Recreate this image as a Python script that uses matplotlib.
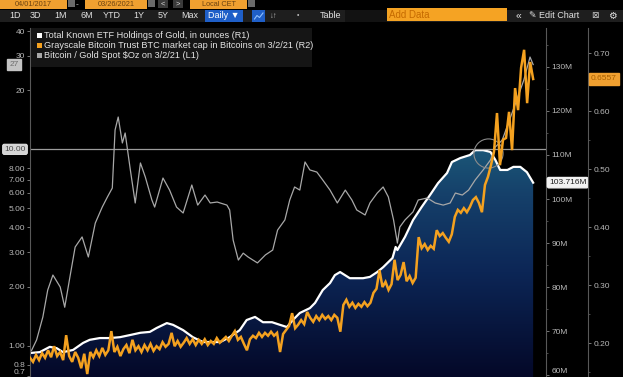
import numpy as np
import pandas as pd
import matplotlib
matplotlib.use("Agg")
import matplotlib.pyplot as plt
import matplotlib.colors as mcolors
import matplotlib.dates as mdates
from matplotlib.patches import Rectangle
from matplotlib.lines import Line2D
from matplotlib import font_manager as fm
from matplotlib.ticker import FixedLocator, MultipleLocator, NullLocator

# ---------------- data ----------------
start_date = "2017-04-01"
end_date = "2021-03-20"
view_end = "2021-04-26"

# Bitcoin / Gold Spot (L1, log)
ratio_dates = ["2017-04-01", "2017-04-06", "2017-04-20", "2017-05-08", "2017-05-22", "2017-06-06",
               "2017-06-27", "2017-07-10", "2017-07-25", "2017-08-09", "2017-08-29", "2017-09-16",
               "2017-10-06", "2017-10-26", "2017-11-10", "2017-11-24", "2017-12-02", "2017-12-11",
               "2017-12-23", "2017-12-31", "2018-01-15", "2018-01-29", "2018-02-13", "2018-02-27",
               "2018-03-18", "2018-03-26", "2018-04-19", "2018-05-08", "2018-05-28", "2018-06-16",
               "2018-07-11", "2018-07-28", "2018-08-18", "2018-09-02", "2018-09-22", "2018-10-20",
               "2018-10-28", "2018-11-07", "2018-11-22", "2018-12-06", "2018-12-20", "2019-01-16",
               "2019-02-08", "2019-03-01", "2019-03-15", "2019-04-05", "2019-04-19", "2019-05-03",
               "2019-05-18", "2019-06-02", "2019-06-16", "2019-07-06", "2019-07-23", "2019-08-13",
               "2019-09-03", "2019-09-26", "2019-10-15", "2019-10-29", "2019-11-22", "2019-12-06",
               "2019-12-27", "2020-01-13", "2020-01-28", "2020-02-12", "2020-02-23", "2020-03-01",
               "2020-03-16", "2020-04-08", "2020-04-23", "2020-05-19", "2020-06-11", "2020-07-04",
               "2020-07-24", "2020-08-08", "2020-08-28", "2020-09-15", "2020-10-04", "2020-10-27",
               "2020-11-17", "2020-12-01", "2020-12-21", "2021-01-14", "2021-02-04", "2021-02-21",
               "2021-03-11", "2021-03-20"]
ratio_values = [0.93, 0.95, 1.07, 1.40, 1.92, 2.29,
                1.99, 1.57, 2.24, 3.18, 3.58, 2.83,
                4.21, 5.08, 5.72, 6.35, 12.54, 14.6,
                10.77, 12.11, 7.85, 5.33, 8.52, 7.23,
                5.52, 5.08, 7.14, 6.20, 5.08, 4.74,
                6.58, 5.20, 5.85, 5.33, 5.39, 5.20,
                4.91, 3.45, 2.73, 2.96, 2.83, 2.64,
                2.90, 3.07, 3.88, 4.37, 5.52, 6.43,
                6.20, 8.62, 7.85, 7.66, 6.98, 6.20,
                5.33, 6.20, 5.52, 4.91, 4.63, 5.33,
                5.99, 6.43, 5.72, 4.37, 3.33, 4.02,
                4.37, 4.80, 5.52, 5.65, 5.33, 5.20,
                5.33, 5.99, 5.85, 6.20, 6.98, 7.85,
                8.82, 10.27, 11.15, 14.6, 18.47, 22.5,
                29.5, 27.0]

# Total Known ETF Holdings of Gold, millions of ounces (R1)
etf_dates = ["2017-04-01", "2017-04-29", "2017-05-28", "2017-06-17", "2017-07-05", "2017-08-03",
             "2017-09-01", "2017-09-20", "2017-10-19", "2017-11-17", "2017-12-16", "2018-01-15",
             "2018-02-13", "2018-03-12", "2018-04-01", "2018-04-30", "2018-05-18", "2018-06-16",
             "2018-07-14", "2018-08-12", "2018-09-10", "2018-10-01", "2018-10-28", "2018-11-26",
             "2018-12-16", "2019-01-09", "2019-02-01", "2019-02-27", "2019-03-22", "2019-04-11",
             "2019-04-28", "2019-05-18", "2019-06-16", "2019-07-01", "2019-07-23", "2019-08-13",
             "2019-08-27", "2019-09-11", "2019-10-09", "2019-10-29", "2019-11-16", "2019-12-06",
             "2019-12-27", "2020-01-13", "2020-02-09", "2020-02-18", "2020-02-23", "2020-03-16",
             "2020-04-08", "2020-05-03", "2020-05-27", "2020-06-19", "2020-07-15", "2020-07-29",
             "2020-08-22", "2020-09-19", "2020-10-04", "2020-10-27", "2020-11-17", "2020-12-01",
             "2020-12-15", "2021-01-05", "2021-01-22", "2021-02-11", "2021-03-02", "2021-03-20"]
etf_values = [65.0, 65.2, 66.4, 66.1, 65.2, 65.7,
              67.3, 68.0, 68.4, 68.4, 68.6, 69.1,
              69.6, 69.8, 70.7, 71.8, 71.4, 70.2,
              68.6, 67.5, 67.5, 67.5, 68.6, 70.2,
              72.5, 73.2, 72.0, 72.0, 71.4, 70.9,
              72.5, 74.1, 75.2, 76.4, 79.3, 80.9,
              82.7, 83.4, 82.0, 82.0, 82.0, 82.3,
              83.4, 84.5, 86.6, 89.1, 88.4, 91.4,
              95.2, 98.2, 100.9, 103.6, 105.9, 108.4,
              109.3, 110.0, 111.1, 111.1, 110.7, 108.9,
              106.6, 106.6, 107.3, 107.3, 106.1, 103.716]

# Grayscale Bitcoin Trust series (R2), evenly spaced observations start..end
gbtc_values = [0.175, 0.168, 0.180, 0.171, 0.183, 0.175, 0.188, 0.176, 0.195, 0.178,
               0.185, 0.171, 0.214, 0.178, 0.168, 0.185, 0.175, 0.157, 0.182, 0.147,
               0.185, 0.176, 0.188, 0.178, 0.192, 0.180, 0.188, 0.221, 0.185, 0.194,
               0.178, 0.190, 0.197, 0.183, 0.206, 0.188, 0.195, 0.185, 0.197, 0.188,
               0.199, 0.187, 0.195, 0.190, 0.202, 0.194, 0.199, 0.218, 0.195, 0.204,
               0.194, 0.201, 0.209, 0.199, 0.207, 0.197, 0.206, 0.199, 0.207, 0.197,
               0.204, 0.199, 0.209, 0.201, 0.206, 0.211, 0.204, 0.213, 0.221, 0.206,
               0.211, 0.199, 0.188, 0.207, 0.213, 0.209, 0.218, 0.211, 0.218, 0.213,
               0.220, 0.213, 0.218, 0.185, 0.216, 0.223, 0.230, 0.252, 0.226, 0.232,
               0.240, 0.233, 0.254, 0.244, 0.237, 0.247, 0.240, 0.249, 0.242, 0.247,
               0.240, 0.249, 0.244, 0.220, 0.266, 0.275, 0.263, 0.270, 0.261, 0.268,
               0.263, 0.271, 0.264, 0.270, 0.287, 0.294, 0.326, 0.297, 0.306, 0.292,
               0.302, 0.344, 0.309, 0.318, 0.340, 0.307, 0.316, 0.304, 0.313, 0.383,
               0.364, 0.371, 0.361, 0.368, 0.363, 0.395, 0.385, 0.390, 0.382, 0.375,
               0.388, 0.418, 0.430, 0.425, 0.433, 0.426, 0.435, 0.447, 0.452, 0.442,
               0.426, 0.473, 0.487, 0.507, 0.530, 0.597, 0.507, 0.551, 0.554, 0.599,
               0.533, 0.640, 0.602, 0.675, 0.706, 0.614, 0.685, 0.6557]

left_ticks = [0.7, 0.8, 1, 2, 3, 4, 5, 6, 7, 8, 20, 30, 40]
left_labels = ["0.7", "0.8", "1.00", "2.00", "3.00", "4.00", "5.00", "6.00", "7.00", "8.00", "20", "30", "40"]
r1_ticks = [60, 70, 80, 90, 100, 110, 120, 130]
r1_labels = ["60M", "70M", "80M", "90M", "100M", "110M", "120M", "130M"]
r2_ticks = [0.20, 0.30, 0.40, 0.50, 0.60, 0.70]
r2_labels = ["0.20", "0.30", "0.40", "0.50", "0.60", "0.70"]

legend_labels = ["Total Known ETF Holdings of Gold, in ounces (R1)",
                 "Grayscale Bitcoin Trust BTC market cap in Bitcoins on 3/2/21 (R2)",
                 r"Bitcoin / Gold Spot \$Oz on 3/2/21 (L1)"]
periods = ["1D", "3D", "1M", "6M", "YTD", "1Y", "5Y", "Max"]
ref_level = 10.0
last_ratio_label = "27"
last_etf_label = "103.716M"
last_gbtc_label = "0.6557"

# ---------------- style ----------------
def have(f):
    try:
        fm.findfont(fm.FontProperties(family=f), fallback_to_default=False)
        return True
    except Exception:
        return False

FONT = "Liberation Sans Narrow" if have("Liberation Sans Narrow") else "Liberation Sans"
plt.rcParams["font.family"] = [FONT, "DejaVu Sans"]

W, H = 623, 377
ETF_C = "#ffffff"
GBTC_C = "#f4a11f"
RATIO_C = "#a8a8a8"
AX_C = "#585858"
LAB_C = "#b8b8b8"

fig = plt.figure(figsize=(W / 100, H / 100), dpi=100, facecolor="black")

rect = [30 / W, 0, 516 / W, 349 / H]
ax_r1 = fig.add_axes(rect)
ax_r1.set_facecolor("black")
ax_l = ax_r1.twinx()
ax_r2 = ax_r1.twinx()
ax_r1.set_zorder(1)
ax_l.set_zorder(2)
ax_r2.set_zorder(3)
for a in (ax_l, ax_r2):
    a.patch.set_visible(False)

x0 = pd.Timestamp(start_date)
x1 = pd.Timestamp(view_end)

# ETF area with vertical gradient
ed = pd.to_datetime(etf_dates)
r1_lo, r1_hi = 59.55, 138.86
cmap = mcolors.LinearSegmentedColormap.from_list(
    "bbg", [(0.0, "#040828"), (0.3, "#0c2656"), (0.52, "#15406a"), (0.65, "#1b5677"), (1.0, "#28708f")])
grad = np.linspace(0, 1, 256).reshape(-1, 1)
im = ax_r1.imshow(grad, extent=[mdates.date2num(x0), mdates.date2num(x1), r1_lo, r1_hi],
                  origin="lower", cmap=cmap, aspect="auto", zorder=1, interpolation="bilinear")
poly = ax_r1.fill_between(ed, etf_values, r1_lo, facecolor="none", edgecolor="none", zorder=1)
im.set_clip_path(poly.get_paths()[0], transform=ax_r1.transData)
ax_r1.plot(ed, etf_values, color=ETF_C, lw=1.6, zorder=3, solid_joinstyle="round")

# Ratio line (L1)
ax_l.set_yscale("log")
ax_l.axhline(ref_level, color="#9c9c9c", lw=0.9, zorder=1)
ax_l.plot(pd.to_datetime(ratio_dates), ratio_values, color=RATIO_C, lw=0.9, zorder=2)
ax_l.plot([pd.Timestamp("2020-11-10")], [9.6], marker="o", ms=21, mfc="none",
          mec="#8c8c8c", mew=0.8, zorder=2)

# GBTC line (R2)
gd = pd.date_range(start_date, end_date, periods=len(gbtc_values))
ax_r2.plot(gd, gbtc_values, color=GBTC_C, lw=1.8, zorder=3, solid_joinstyle="miter")

# limits
for a in (ax_r1, ax_l, ax_r2):
    a.set_xlim(x0, x1)
ax_r1.set_ylim(r1_lo, r1_hi)
ax_l.set_ylim(0.693, 41.46)
ax_r2.set_ylim(0.1419, 0.7436)

# axes styling
for a in (ax_r1, ax_l, ax_r2):
    for s in a.spines.values():
        s.set_visible(False)
    a.tick_params(axis="x", bottom=False, labelbottom=False, top=False, labeltop=False)

ax_r1.yaxis.tick_right()
ax_r1.spines["right"].set_visible(True)
ax_r1.spines["right"].set_color(AX_C)
ax_r1.set_yticks(r1_ticks, r1_labels)
ax_r1.yaxis.set_minor_locator(MultipleLocator(5))
ax_r1.tick_params(axis="y", which="major", direction="out", length=2.5, width=0.6,
                  color="#8a8a8a", labelcolor=LAB_C, labelsize=6, pad=1.5)
ax_r1.tick_params(axis="y", which="minor", direction="out", length=1.5, width=0.5, color="#6a6a6a")

ax_l.yaxis.tick_left()
ax_l.yaxis.set_label_position("left")
ax_l.spines["left"].set_visible(True)
ax_l.spines["left"].set_color(AX_C)
ax_l.yaxis.set_major_locator(FixedLocator(left_ticks))
ax_l.set_yticklabels(left_labels)
ax_l.yaxis.set_minor_locator(NullLocator())
ax_l.tick_params(axis="y", which="major", direction="out", length=2.5, width=0.6,
                 color="#8a8a8a", labelcolor=LAB_C, labelsize=6, pad=1)

ax_r2.spines["right"].set_visible(True)
ax_r2.spines["right"].set_position(("axes", 1 + 42 / 516))
ax_r2.spines["right"].set_color(AX_C)
ax_r2.set_yticks(r2_ticks, r2_labels)
ax_r2.yaxis.set_minor_locator(MultipleLocator(0.05))
ax_r2.tick_params(axis="y", which="major", direction="out", length=2.5, width=0.6,
                  color="#8a8a8a", labelcolor=LAB_C, labelsize=6, pad=1.5)
ax_r2.tick_params(axis="y", which="minor", direction="out", length=1.5, width=0.5, color="#6a6a6a")

# keep the lowest tick labels inside the picture
ax_l.get_yticklabels()[0].set_va("bottom")
ax_r1.get_yticklabels()[0].set_va("bottom")

# value tags
ax_l.annotate(last_ratio_label, xy=(0, ratio_values[-1]), xycoords=("axes fraction", "data"),
              xytext=(-16, 0), textcoords="offset pixels", ha="center", va="center",
              fontsize=6, color="#6e6e6e", annotation_clip=False, zorder=5,
              bbox=dict(boxstyle="square,pad=0.25", fc="#c4c4c4", ec="#c4c4c4"))
ax_l.annotate("%.2f" % ref_level, xy=(0, ref_level), xycoords=("axes fraction", "data"),
              xytext=(-15, 0), textcoords="offset pixels", ha="center", va="center",
              fontsize=6, color="#4a4a4a", annotation_clip=False, zorder=5,
              bbox=dict(boxstyle="round,pad=0.2", fc="#d4d4d4", ec="#f0f0f0", lw=0.6))
ax_r1.annotate(last_etf_label, xy=(1, etf_values[-1]), xycoords=("axes fraction", "data"),
               xytext=(3, 0), textcoords="offset pixels", ha="left", va="center",
               fontsize=6, color="#222222", annotation_clip=False, zorder=5,
               bbox=dict(boxstyle="round,pad=0.2", fc="#f2f2f2", ec="#f2f2f2"))
ax_r2.annotate(last_gbtc_label, xy=(1, gbtc_values[-1]), xycoords=("axes fraction", "data"),
               xytext=(45, 0), textcoords="offset pixels", ha="left", va="center",
               fontsize=6, color="#a65f00", annotation_clip=False, zorder=5,
               bbox=dict(boxstyle="square,pad=0.25", fc="#f0a030", ec="#f0a030"))

# ---------------- chrome: legend & toolbar ----------------
def prect(xa, ya, xb, yb, color, z=10):
    fig.patches.append(Rectangle((xa / W, 1 - yb / H), (xb - xa) / W, (yb - ya) / H,
                                 transform=fig.transFigure, facecolor=color, edgecolor="none", zorder=z))

def ptext(x, y, s, **kw):
    kw.setdefault("zorder", 11)
    kw.setdefault("va", "center")
    fig.text(x / W, 1 - y / H, s, **kw)

# legend
prect(31, 28, 312, 67, "#151515")
for i, (lab, c) in enumerate(zip(legend_labels, [ETF_C, GBTC_C, RATIO_C])):
    yy = 35.5 + 10 * i
    prect(37, yy - 2.5, 42, yy + 2.5, c, z=11)
    ptext(44, yy, lab, fontsize=6.6, color="#e4e4e4", ha="left")

# toolbar row 1
row1 = [(0, 67, "04/01/2017"), (85, 147, "03/26/2021"), (190, 247, "Local CET")]
for xa, xb, s in row1:
    prect(xa, 0, xb, 8.5, "#f0a030")
    ptext((xa + xb) / 2, 4.6, s, fontsize=5.3, color="#6b4210", ha="center")
for xa in (68, 148, 248):
    prect(xa, 0, xa + 7, 7, "#6a6a6a")
ptext(77, 4.5, "-", fontsize=6, color="#cccccc", ha="center")
prect(158, 0, 168, 8, "#3a3a3a")
prect(173, 0, 183, 8, "#3a3a3a")
ptext(163, 4.5, "<", fontsize=5.5, color="#dddddd", ha="center")
ptext(178, 4.5, ">", fontsize=5.5, color="#dddddd", ha="center")

# toolbar row 2
prect(0, 10, W, 22, "#1e1e1e", z=9)
prect(345, 10, 387, 22, "#121212", z=9)
period_x = [15, 35, 61, 87, 112, 139, 163, 190]
for px, s in zip(period_x, periods):
    ptext(px, 16, s, fontsize=6.5, color="#e2e2e2", ha="center")
prect(205, 10, 243, 22, "#1f5fc8")
ptext(224, 16, "Daily \u25BC", fontsize=6.5, color="#ffffff", ha="center")
prect(252, 10, 265, 22, "#1f5fc8")
fig.lines.append(Line2D(np.array([254.5, 257, 259.5, 263]) / W, 1 - np.array([19, 15.5, 17.5, 13]) / H,
                        transform=fig.transFigure, color="#8fc0ff", lw=0.8, zorder=12))
ptext(274, 16, "\u2193\u2191", fontsize=5.5, color="#bbbbbb", ha="center")
ptext(298, 16, "\u2022", fontsize=5, color="#bbbbbb", ha="center")
ptext(331, 16, "Table", fontsize=6.5, color="#e2e2e2", ha="center")
prect(387, 8, 507, 21, "#f5a323")
ptext(389, 14.5, "Add Data", fontsize=7, color="#c56a00", ha="left")
ptext(518, 16, "\u00AB", fontsize=7.5, color="#e2e2e2", ha="center")
ptext(529, 16, "\u270E Edit Chart", fontsize=6.5, color="#e2e2e2", ha="left")
ptext(595, 16, "\u22A0", fontsize=6.5, color="#cccccc", ha="center")
ptext(612, 16, "\u2699", fontsize=7, color="#e2e2e2", ha="center")

fig.savefig("out.png", dpi=100, facecolor="black")
